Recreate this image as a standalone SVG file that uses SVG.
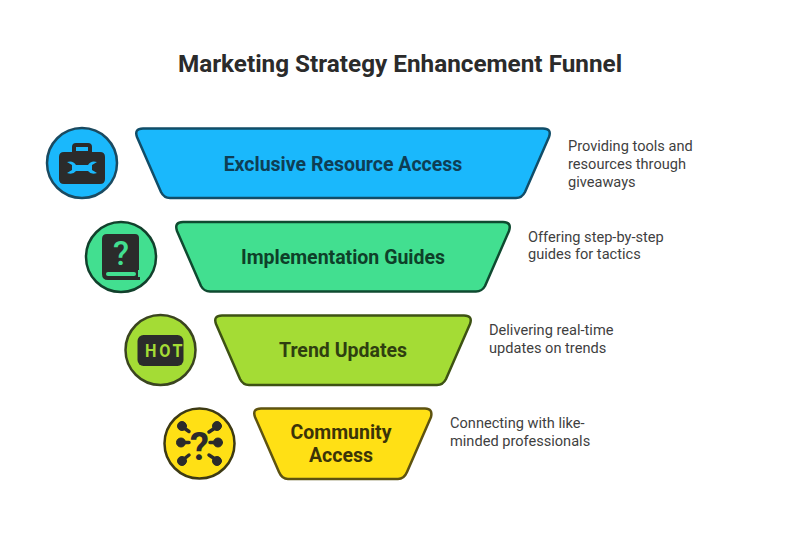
<svg xmlns="http://www.w3.org/2000/svg" width="800" height="549" viewBox="0 0 800 549">
<style>
text{font-family:Roboto,"Liberation Sans",sans-serif}
.title{font-size:24.3px;font-weight:700;fill:#2b2b2b;text-anchor:middle}
.lab{font-size:19.5px;font-weight:700;text-anchor:middle}
.desc{font-size:14.6px;fill:#3f3f3f}
.sh{stroke-width:2.5;stroke-linejoin:round}
.ic{fill:#2b2b2b}
</style>
<rect width="800" height="549" fill="#fff"/>
<text class="title" x="400" y="72">Marketing Strategy Enhancement Funnel</text>
<g id="connectors"/>
<g id="node1">
<path class="sh" fill="#1ab8fc" stroke="#114d68" d="M143 128.500H543Q552 128.500 549 137L525 192Q522 198 516 198H170Q164 198 161 192L137 137Q134 128.500 143 128.500Z"/>
<text class="lab" x="343" y="170.500" fill="#0e3e55">Exclusive Resource Access</text>
</g>
<g id="icon1">
<circle class="sh" cx="82" cy="163" r="35" fill="#1ab8fc" stroke="#1b4a60"/>
<path class="ic" fill-rule="evenodd" d="M64 152H72V147Q72 143 76 143H88Q92 143 92 147V152H100Q105 152 105 157V179Q105 184 100 184H64Q59 184 59 179V157Q59 152 64 152ZM76 147V151H88V147Z"/>
<path d="M67 162Q73 160 76 165H88Q91 160 97 162L92 165V170L97 173Q91 175 88 171H76Q73 175 67 173L72 170V165Z" fill="#1ab8fc"/>
</g>
<g id="node2">
<path class="sh" fill="#42df90" stroke="#0f4a30" d="M183 222H503Q512 222 509 231L485 286Q482 291.500 476 291.500H210Q204 291.500 201 286L177 231Q174 222 183 222Z"/>
<text class="lab" x="343" y="263.500" fill="#0e4029">Implementation Guides</text>
</g>
<g id="icon2">
<circle class="sh" cx="121" cy="257" r="35" fill="#42df90" stroke="#12402c"/>
<path class="ic" d="M107 234H135Q139 234 139 238V270H138V277H140V280H108Q102 280 102 274V239Q102 234 107 234Z"/>
<rect x="106" y="272" width="30" height="4" rx="2" fill="#42df90"/>
<text x="121" y="265" font-size="33" font-weight="500" fill="#42df90" text-anchor="middle">?</text>
</g>
<g id="node3">
<path class="sh" fill="#a4dc35" stroke="#3d5213" d="M222 315.500H464Q473 315.500 470 324L446 379Q443 385 437 385H249Q243 385 240 379L216 324Q213 315.500 222 315.500Z"/>
<text class="lab" x="343" y="357" fill="#2f3f10">Trend Updates</text>
</g>
<g id="icon3">
<circle class="sh" cx="160.500" cy="350" r="35" fill="#a4dc35" stroke="#3a4420"/>
<rect class="ic" x="137.500" y="335" width="46" height="31" rx="6"/>
<text x="145" y="357.500" font-size="18" font-weight="700" fill="#a4dc35" font-family="Roboto" letter-spacing="3" transform="translate(145 0) scale(.9 1) translate(-145 0)">HOT</text>
</g>
<g id="node4">
<path class="sh" fill="#ffe015" stroke="#5e5310" d="M261 408.500H425Q433 408.500 431 417L407 472Q404 479 398 479H288Q282 479 279 472L255 417Q252 408.500 261 408.500Z"/>
<text class="lab" x="341" y="439" fill="#3b3408">Community</text>
<text class="lab" x="341" y="462" fill="#3b3408">Access</text>
</g>
<g id="icon4">
<circle class="sh" cx="199.500" cy="443.500" r="35" fill="#ffe015" stroke="#3d3a14"/>
<g class="ic" stroke="#2b2b2b" stroke-linecap="round">
<circle cx="182" cy="426" r="4.500"/><circle cx="217" cy="426" r="4.500"/><circle cx="181" cy="442.500" r="4.500"/><circle cx="218" cy="442.500" r="4.500"/><circle cx="182" cy="461" r="4.500"/><circle cx="217" cy="461" r="4.500"/>
<path fill="none" stroke-width="3.500" d="M184 428L189 431.500M215 428L209 432M184 442.500H189M216 442.500H210M184 459L189 455M215 459L209 455"/>
</g>
<text x="199.500" y="459.500" font-size="38" font-weight="700" fill="#2b2b2b" text-anchor="middle">?</text>
</g>
<g id="desc1"><text class="desc" x="568" y="150.500">Providing tools and</text><text class="desc" x="568" y="168.500">resources through</text><text class="desc" x="568" y="186.500">giveaways</text></g>
<g id="desc2"><text class="desc" x="528" y="241.500">Offering step-by-step</text><text class="desc" x="528" y="259">guides for tactics</text></g>
<g id="desc3"><text class="desc" x="489" y="335">Delivering real-time</text><text class="desc" x="489" y="352.500">updates on trends</text></g>
<g id="desc4"><text class="desc" x="450" y="428">Connecting with like-</text><text class="desc" x="450" y="445.500">minded professionals</text></g>
</svg>
